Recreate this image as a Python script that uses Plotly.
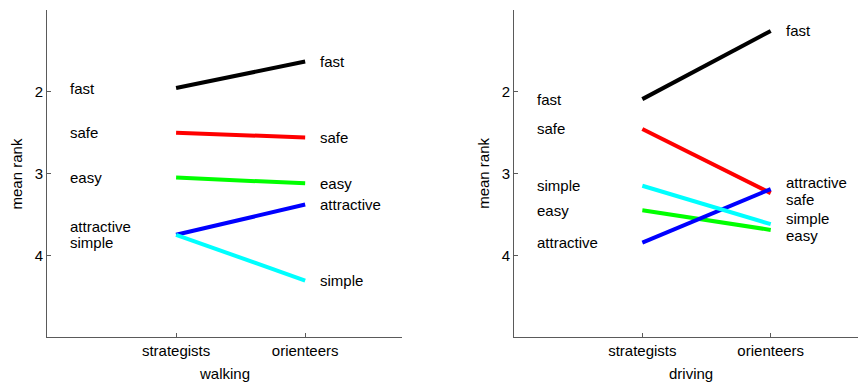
import plotly.graph_objects as go

# ---- data ----
attributes = ["fast", "safe", "easy", "attractive", "simple"]
groups = ["strategists", "orienteers"]
walking_strategists = [1.955, 2.50, 3.05, 3.75, 3.75]
walking_orienteers = [1.63, 2.56, 3.12, 3.38, 4.31]
driving_strategists = [2.09, 2.455, 3.45, 3.845, 3.15]
driving_orienteers = [1.256, 3.24, 3.69, 3.19, 3.62]
panel_titles = ["walking", "driving"]
y_title = "mean rank"
y_ticks = [2, 3, 4]

colors = {"fast": "#000000", "safe": "#ff0000", "easy": "#00ff00",
          "attractive": "#0000ff", "simple": "#00ffff"}

FONT = "Liberation Sans, Arial, sans-serif"
TXT = dict(family=FONT, size=15, color="black")


def spread(vals, gap=0.2):
    """Return label positions so that labels closer than `gap` are spread apart."""
    idx = sorted(range(len(vals)), key=lambda i: vals[i])
    out = [None] * len(vals)
    grp = [idx[0]]
    groups_ = []
    for i in idx[1:]:
        if vals[i] - vals[grp[-1]] < gap:
            grp.append(i)
        else:
            groups_.append(grp)
            grp = [i]
    groups_.append(grp)
    for g in groups_:
        m = sum(vals[i] for i in g) / len(g)
        n = len(g)
        for k, i in enumerate(g):
            out[i] = m + (k - (n - 1) / 2) * gap
    return out


fig = go.Figure()
panels = [(walking_strategists, walking_orienteers, "x", "y", panel_titles[0], 0.2186, -0.037),
          (driving_strategists, driving_orienteers, "x2", "y2", panel_titles[1], 0.7937, 0.538)]

for s_vals, o_vals, xa, ya, ttl, tx, yx in panels:
    for a, s, o in zip(attributes, s_vals, o_vals):
        fig.add_trace(go.Scatter(x=[1, 2], y=[s, o], mode="lines",
                                 line=dict(color=colors[a], width=4),
                                 xaxis=xa, yaxis=ya, showlegend=False,
                                 hoverinfo="skip"))
    left_pos = spread(s_vals)
    right_pos = spread(o_vals)
    for a, yl, yr in zip(attributes, left_pos, right_pos):
        fig.add_annotation(x=0.165, y=yl, xref=xa, yref=ya, text=a,
                           showarrow=False, xanchor="left", yanchor="middle", font=TXT)
        fig.add_annotation(x=2.10, y=yr, xref=xa, yref=ya, text=a,
                           showarrow=False, xanchor="left", yanchor="middle", font=TXT)
    # axis titles
    fig.add_annotation(x=tx, y=-0.113, xref="paper", yref="paper", text=ttl,
                       showarrow=False, xanchor="center", yanchor="middle", font=TXT)
    fig.add_annotation(x=yx, y=0.5, xref="paper", yref="paper", text=y_title, textangle=-90,
                       showarrow=False, xanchor="center", yanchor="middle", font=TXT)

axis_common = dict(showline=True, linecolor="#5a5a5a", linewidth=1, automargin=False,
                   showgrid=False, zeroline=False, ticks="inside", ticklen=4,
                   tickcolor="#5a5a5a", tickfont=TXT)

xcommon = dict(axis_common, tickvals=[1, 2], ticktext=groups)
ycommon = dict(axis_common, range=[5, 1], tickvals=y_ticks)

fig.update_layout(
    width=858, height=385,
    margin=dict(l=47, r=0, t=10, b=48),
    paper_bgcolor="white", plot_bgcolor="white",
    xaxis=dict(xcommon, domain=[0, 0.4377], range=[0, 2.75], anchor="y"),
    yaxis=dict(ycommon, domain=[0, 1], anchor="x"),
    xaxis2=dict(xcommon, domain=[0.5758, 1], range=[0, 2.68], anchor="y2"),
    yaxis2=dict(ycommon, domain=[0, 1], anchor="x2"),
)

fig.write_html("out.html", config={"displayModeBar": False},
               post_script="document.body.style.margin='0';document.body.style.overflow='hidden';")
